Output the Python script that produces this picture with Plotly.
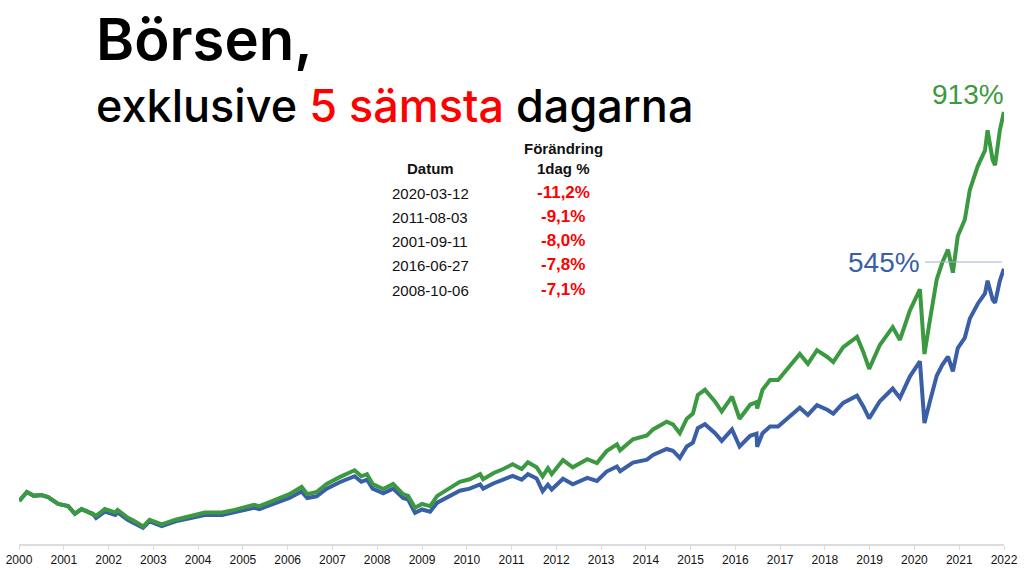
import plotly.graph_objects as go

# ---------------- data ----------------
dates = [
    "2000-01-03", "2000-03-05", "2000-05-01", "2000-07-01", "2000-08-25", "2000-11-15",
    "2001-02-05", "2001-04-01", "2001-05-25", "2001-08-25", "2001-09-21", "2001-12-01",
    "2002-02-25", "2002-03-15", "2002-06-05", "2002-08-05", "2002-10-09", "2002-12-01",
    "2003-03-11", "2003-07-01", "2003-10-10", "2004-02-25", "2004-07-15", "2004-10-25",
    "2005-04-01", "2005-05-15", "2005-09-01", "2006-01-15", "2006-04-25", "2006-06-10",
    "2006-08-25", "2006-11-15", "2007-03-01", "2007-05-01", "2007-07-01", "2007-08-25",
    "2007-10-10", "2007-11-25", "2008-02-20", "2008-05-10", "2008-07-30", "2008-09-10",
    "2008-11-05", "2009-01-01", "2009-03-08", "2009-05-05", "2009-08-18", "2009-11-05",
    "2010-01-25", "2010-04-20", "2010-05-15", "2010-08-05", "2010-10-25", "2011-01-10",
    "2011-03-25", "2011-05-15", "2011-07-25", "2011-09-12", "2011-10-25", "2011-11-25",
    "2012-02-25", "2012-05-15", "2012-09-10", "2012-11-28", "2013-02-15", "2013-05-10",
    "2013-06-05", "2013-09-18", "2014-01-10", "2014-03-01", "2014-06-20", "2014-08-10",
    "2014-10-05", "2014-12-01", "2015-01-20", "2015-03-01", "2015-04-28", "2015-07-20",
    "2015-09-12", "2015-12-05", "2016-02-05", "2016-05-01", "2016-06-22", "2016-06-27",
    "2016-08-10", "2016-10-10", "2016-12-15", "2017-03-20", "2017-06-10", "2017-08-15",
    "2017-10-28", "2018-01-20", "2018-03-10", "2018-05-30", "2018-09-20", "2018-11-10",
    "2018-12-28", "2019-03-25", "2019-07-08", "2019-09-05", "2019-11-25", "2020-02-15",
    "2020-03-23", "2020-05-08", "2020-07-01", "2020-08-15", "2020-10-01", "2020-11-10",
    "2020-12-20", "2021-02-15", "2021-03-28", "2021-06-01", "2021-07-30", "2021-08-20",
    "2021-10-01", "2021-10-20", "2021-11-28", "2021-12-24", "2021-12-31",
]

# cumulative change in %, excluding the 5 worst days (green)
excl_worst_pct = [
    0, 21, 12, 14, 9, -7,
    -12, -30, -19, -30, -35, -19,
    -27, -21, -39, -48, -60, -44,
    -55, -44, -37, -27, -27, -21,
    -9, -12, 0, 16, 33, 16,
    21, 40, 56, 65, 72, 58,
    63, 40, 28, 40, 16, 12,
    -16, -7, -12, 12, 30, 45,
    51, 63, 51, 65, 75, 86,
    75, 91, 79, 58, 77, 63,
    96, 79, 98, 89, 117, 133,
    119, 145, 154, 168, 186, 180,
    159, 193, 205, 249, 261, 233,
    210, 245, 193, 226, 232, 217,
    261, 284, 284, 315, 345, 322,
    354, 338, 326, 361, 385, 350,
    310, 366, 408, 378, 447, 497,
    345, 427, 520, 559, 590, 536,
    622, 660, 730, 786, 823, 870,
    800, 788, 870, 904, 913,
]

# cumulative change in %, all days (blue)
all_days_pct = [
    0, 21, 12, 14, 9, -7,
    -12, -30, -19, -30, -40, -25,
    -33, -27, -44, -52, -63, -48,
    -59, -48, -42, -33, -33, -27,
    -16, -19, -8, 7, 22, 7,
    11, 29, 44, 52, 58, 45,
    50, 29, 18, 29, 7, 3,
    -28, -20, -25, -4, 11, 24,
    29, 39, 29, 41, 50, 59,
    50, 63, 53, 23, 38, 27,
    52, 39, 54, 47, 69, 81,
    70, 90, 97, 108, 122, 118,
    101, 128, 137, 171, 180, 159,
    141, 168, 128, 153, 158, 127,
    159, 175, 175, 197, 219, 202,
    225, 214, 205, 230, 247, 222,
    194, 234, 264, 242, 292, 328,
    183, 235, 294, 319, 339, 304,
    359, 383, 428, 463, 487, 517,
    472, 465, 517, 539, 545,
]

years = list(range(2000, 2023))
tick_dates = [f"{y}-01-01" for y in years]
tick_labels = [str(y) for y in years]

table_dates = ["2020-03-12", "2011-08-03", "2001-09-11", "2016-06-27", "2008-10-06"]
table_changes = ["-11,2%", "-9,1%", "-8,0%", "-7,8%", "-7,1%"]

end_label_green = "913%"
end_label_blue = "545%"

# ---------------- styling ----------------
GREEN = "#3b9a41"
BLUE = "#3a5fa6"
RED = "#ff0000"
FONT = "Liberation Sans, Arial, sans-serif"
TFONT = "Inter, Liberation Sans, sans-serif"

W, H = 1024, 570
ML, MR, MT, MB = 19, 20, 40, 26


def px(x):
    return (x - ML) / (W - ML - MR)


def py(y):
    return (H - MB - y) / (H - MT - MB)


fig = go.Figure()
fig.add_trace(go.Scatter(x=dates, y=all_days_pct, mode="lines",
                         line=dict(color=BLUE, width=4), hoverinfo="skip"))
fig.add_trace(go.Scatter(x=dates, y=excl_worst_pct, mode="lines",
                         line=dict(color=GREEN, width=4), hoverinfo="skip"))

ann = []
# Title
ann.append(dict(text="Börsen,", x=px(94), y=py(39), xref="paper", yref="paper",
                xanchor="left", yanchor="middle", showarrow=False,
                font=dict(family=TFONT, size=58, color="#000", weight=600)))
ann.append(dict(text="exklusive <span style='color:#ff0000'>5 sämsta</span> dagarna",
                x=px(94), y=py(106), xref="paper", yref="paper",
                xanchor="left", yanchor="middle", showarrow=False,
                font=dict(family=TFONT, size=45, color="#000", weight=500)))
# Table header
ann.append(dict(text="<b>Datum</b>", x=px(430), y=py(168), xref="paper", yref="paper",
                xanchor="center", yanchor="middle", showarrow=False,
                font=dict(family=FONT, size=15, color="#111")))
ann.append(dict(text="<b>Förändring</b>", x=px(563), y=py(148), xref="paper", yref="paper",
                xanchor="center", yanchor="middle", showarrow=False,
                font=dict(family=FONT, size=15, color="#111")))
ann.append(dict(text="<b>1dag %</b>", x=px(563), y=py(168), xref="paper", yref="paper",
                xanchor="center", yanchor="middle", showarrow=False,
                font=dict(family=FONT, size=15, color="#111")))
row_y = [193, 217, 241, 265, 290]
for d, c, ry in zip(table_dates, table_changes, row_y):
    ann.append(dict(text=d, x=px(430), y=py(ry), xref="paper", yref="paper",
                    xanchor="center", yanchor="middle", showarrow=False,
                    font=dict(family=FONT, size=15, color="#111")))
    ann.append(dict(text=f"<b>{c}</b>", x=px(563), y=py(ry - 1), xref="paper", yref="paper",
                    xanchor="center", yanchor="middle", showarrow=False,
                    font=dict(family=FONT, size=17, color=RED)))
# End labels
ann.append(dict(text=end_label_green, x=px(968), y=py(95), xref="paper", yref="paper",
                xanchor="center", yanchor="middle", showarrow=False,
                font=dict(family=FONT, size=28, color=GREEN)))
ann.append(dict(text=end_label_blue, x=px(884), y=py(262), xref="paper", yref="paper",
                xanchor="center", yanchor="middle", showarrow=False,
                font=dict(family=FONT, size=28, color=BLUE)))

fig.update_layout(
    width=W, height=H, autosize=False,
    margin=dict(l=ML, r=MR, t=MT, b=MB, autoexpand=False),
    paper_bgcolor="white", plot_bgcolor="white",
    showlegend=False,
    annotations=ann,
    shapes=[dict(type="line", xref="paper", yref="paper",
                 x0=px(925), x1=px(1002), y0=py(262), y1=py(262),
                 line=dict(color="#9fb0cc", width=1))],
    xaxis=dict(type="date", range=["2000-01-01", "2022-01-01"],
               tickvals=tick_dates, ticktext=tick_labels, automargin=False,
               showgrid=False, zeroline=False, showline=True,
               linecolor="#dcdcdc", linewidth=1.5,
               ticks="outside", ticklen=4, tickcolor="#dcdcdc",
               tickfont=dict(family=FONT, size=12, color="#111")),
    yaxis=dict(visible=False, range=[-101, 1082], fixedrange=True),
)

fig.write_html("out.html", config={"displayModeBar": False})
